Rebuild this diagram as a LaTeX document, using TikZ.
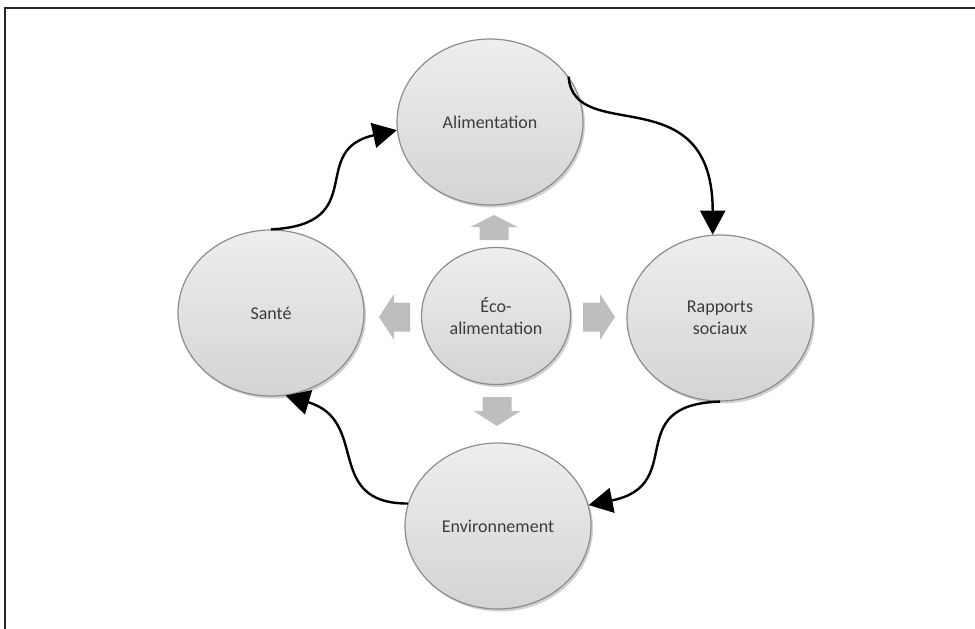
\documentclass[tikz,border=0pt]{standalone}
\usepackage{fontspec}
\setmainfont{Carlito}
\usetikzlibrary{shapes.geometric,arrows.meta,shadows}
\definecolor{ctop}{RGB}{238,238,238}
\definecolor{cbot}{RGB}{212,212,212}
\definecolor{cedge}{RGB}{140,140,140}
\definecolor{ctext}{RGB}{60,60,60}
\definecolor{blockgray}{RGB}{190,190,190}
\tikzset{
  bubble/.style={ellipse, draw=cedge, line width=1.2pt, top color=ctop, bottom color=cbot,
    minimum width=186pt, minimum height=166pt, inner sep=0pt, align=center,
    text=ctext, font=\fontsize{18}{22}\selectfont,
    drop shadow={shadow xshift=2pt, shadow yshift=-2.5pt, opacity=0.18, fill=black}},
  smallbubble/.style={bubble, minimum width=149pt, minimum height=137pt},
  flow/.style={line width=2.4pt, black, -{Triangle[length=24pt,width=25pt]}},
  block/.style={fill=blockgray, draw=none}
}
\begin{document}
\begin{tikzpicture}[x=1pt,y=1pt]
\useasboundingbox (0,0) rectangle (975,-629);
% frame
\draw[line width=1.6pt, black!85] (5,-629) -- (5,-8) -- (975,-8);

% nodes
\node[bubble] (alim) at (490,-122) {Alimentation};
\node[bubble] (san) at (271,-313) {Santé};
\node[bubble] (rap) at (720,-318) {Rapports\\sociaux};
\node[bubble] (env) at (498,-526) {Environnement};
\node[smallbubble] (eco) at (496,-316) {Éco-\\alimentation};

% block arrows
\fill[block] (494,-215) -- (517.5,-227) -- (508.5,-227) -- (508.5,-240) -- (479.5,-240) -- (479.5,-227) -- (470.5,-227) -- cycle;
\fill[block] (497,-426) -- (520.5,-411) -- (511.5,-411) -- (511.5,-397) -- (482.5,-397) -- (482.5,-411) -- (473.5,-411) -- cycle;
\fill[block] (379,-317) -- (394,-294) -- (394,-302.5) -- (410,-302.5) -- (410,-331.5) -- (394,-331.5) -- (394,-340) -- cycle;
\fill[block] (615,-317) -- (600,-294) -- (600,-302.5) -- (583,-302.5) -- (583,-331.5) -- (600,-331.5) -- (600,-340) -- cycle;

% cycle connectors
\draw[flow] (san.north) .. controls +(100,5) and +(-90,-20) .. (alim.185);
\draw[flow] (alim.30) .. controls +(5,-70) and +(0,160) .. (rap.95);
\draw[flow] (rap.south) .. controls +(-100,-3) and +(100,20) .. (env.13);
\draw[flow] (env.166) .. controls +(-85,0) and +(85,-25) .. (san.280);
\end{tikzpicture}
\end{document}
